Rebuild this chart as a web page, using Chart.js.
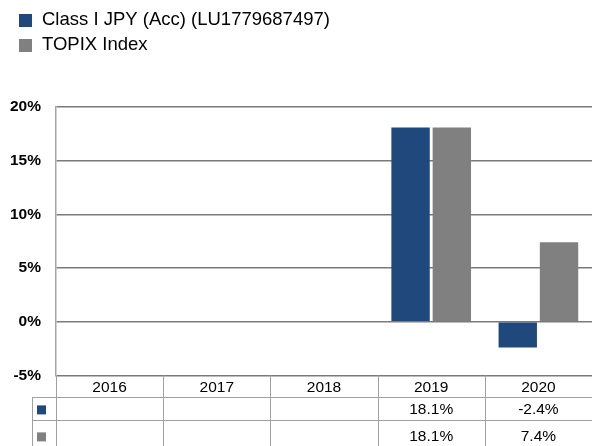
<!DOCTYPE html>
<html>
<head>
<meta charset="utf-8">
<script src="https://cdn.jsdelivr.net/npm/chart.js@4"></script>
<style>
  html, body { margin: 0; padding: 0; background: #fff; }
  canvas { display: block; }
</style>
</head>
<body>
<canvas id="myChart" width="592" height="446"></canvas>
<script>
const years = ["2016", "2017", "2018", "2019", "2020"];
const fundLabel = "Class I JPY (Acc) (LU1779687497)";
const indexLabel = "TOPIX Index";
const fundValues = [null, null, null, 18.1, -2.4];
const indexValues = [null, null, null, 18.1, 7.4];
const yTicks = [-5, 0, 5, 10, 15, 20];

const FONT = '"Liberation Sans", Arial, sans-serif';
const BLUE = "#1f497d";
const GREY = "#808080";

const ctx = document.getElementById("myChart");

// legend on top + table of values under the plot
const tablePlugin = {
  id: "legendAndTable",
  afterDraw: (chart) => {
    const { ctx, chartArea } = chart;
    const x = chart.scales.x;
    const sets = chart.data.datasets;
    ctx.save();

    // legend
    ctx.font = "18.5px " + FONT;
    ctx.textBaseline = "middle";
    ctx.textAlign = "left";
    sets.forEach((ds, i) => {
      const cy = 20 + i * 25;
      ctx.fillStyle = ds.backgroundColor;
      ctx.fillRect(19, cy - 6, 13, 13);
      ctx.fillStyle = "#000";
      ctx.fillText(ds.label, 42, cy);
    });

    // table
    const top = chartArea.bottom;
    const rowH = 23;
    const half = (x.right - x.left) / years.length / 2;
    ctx.strokeStyle = "#a0a0a0";
    ctx.lineWidth = 1;
    ctx.beginPath();
    for (let i = 0; i <= years.length; i++) {
      const px = Math.round(x.left + i * half * 2) + 0.5;
      ctx.moveTo(px, top);
      ctx.lineTo(px, chart.height);
    }
    ctx.moveTo(32.5, top + 22);
    ctx.lineTo(32.5, chart.height);
    for (let r = 0; r < 2; r++) {
      const py = Math.round(top + 22 + r * rowH) + 0.5;
      ctx.moveTo(32, py);
      ctx.lineTo(chart.width, py);
    }
    ctx.stroke();

    ctx.font = "15.5px " + FONT;
    ctx.textAlign = "center";
    sets.forEach((ds, r) => {
      const cy = top + 34 + r * 27;
      ctx.fillStyle = ds.backgroundColor;
      ctx.fillRect(37, cy - 4, 9, 9);
      ctx.fillStyle = "#000";
      ds.data.forEach((v, i) => {
        if (v === null) return;
        ctx.fillText(v.toFixed(1) + "%", x.getPixelForValue(i), cy);
      });
    });
    ctx.restore();
  },
};

new Chart(ctx, {
  type: "bar",
  data: {
    labels: years,
    datasets: [
      {
        label: fundLabel,
        data: fundValues,
        backgroundColor: BLUE,
        categoryPercentage: 0.77,
        barPercentage: 0.93,
      },
      {
        label: indexLabel,
        data: indexValues,
        backgroundColor: GREY,
        categoryPercentage: 0.77,
        barPercentage: 0.93,
      },
    ],
  },
  options: {
    responsive: false,
    animation: false,
    layout: {
      padding: { top: 107, bottom: 46, left: 0, right: 0 },
    },
    plugins: {
      legend: { display: false },
      tooltip: { enabled: false },
    },
    scales: {
      x: {
        grid: { display: false, drawTicks: false },
        border: { display: false },
        ticks: {
          color: "#000",
          padding: 3,
          font: { family: FONT, size: 15.5 },
        },
      },
      y: {
        min: -5,
        max: 20,
        afterFit: (scale) => {
          scale.width = 56;
        },
        afterBuildTicks: (scale) => {
          scale.ticks = yTicks.map((v) => ({ value: v }));
        },
        grid: { color: "#7a7a7a", lineWidth: 1.5, drawTicks: false },
        border: { color: "#a6a6a6", width: 1.5 },
        ticks: {
          color: "#000",
          padding: 15,
          font: { family: FONT, size: 15.5, weight: "bold" },
          callback: (v) => v + "%",
        },
      },
    },
  },
  plugins: [tablePlugin],
});
</script>
</body>
</html>
